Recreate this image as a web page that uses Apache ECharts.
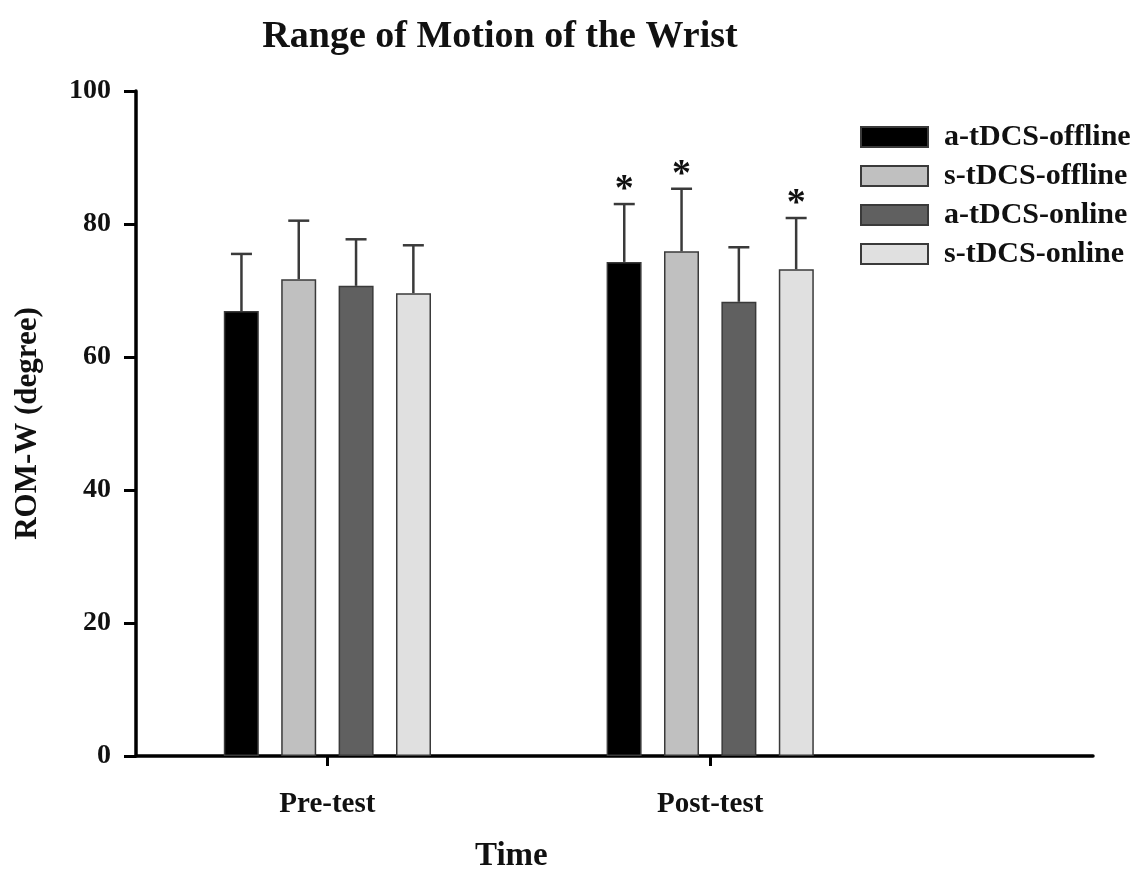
<!DOCTYPE html>
<html>
<head>
<meta charset="utf-8">
<script src="https://cdn.jsdelivr.net/npm/echarts@6/dist/echarts.min.js"></script>
<style>html,body{margin:0;padding:0;background:#fff;}#c{width:1148px;height:869px;}</style>
</head>
<body>
<div id="c"></div>
<script>
// ---- data ----
var groups = ['Pre-test', 'Post-test'];
var groupSlots = [1, 3];          // positions of the groups on the time axis
var slotCount = 6;
var seriesNames = ['a-tDCS-offline', 's-tDCS-offline', 'a-tDCS-online', 's-tDCS-online'];
var aOfflineMean = [66.9, 74.3];
var sOfflineMean = [71.7, 75.9];
var aOnlineMean  = [70.7, 68.3];
var sOnlineMean  = [69.6, 73.2];
var aOfflineSD = [8.6, 8.7];
var sOfflineSD = [8.8, 9.4];
var aOnlineSD  = [7.0, 8.2];
var sOnlineSD  = [7.2, 7.7];
var aOfflineSig = [0, 1];
var sOfflineSig = [0, 1];
var aOnlineSig  = [0, 0];
var sOnlineSig  = [0, 1];
var yTicks = [0, 20, 40, 60, 80, 100];

// ---- build ----
var FONT = 'Liberation Serif';
var colors = ['#000000', '#c0c0c0', '#606060', '#e0e0e0'];
var means = [aOfflineMean, sOfflineMean, aOnlineMean, sOnlineMean];
var sds = [aOfflineSD, sOfflineSD, aOnlineSD, sOnlineSD];
var sigs = [aOfflineSig, sOfflineSig, aOnlineSig, sOnlineSig];
var BAR_W = 35, STEP = 57.3;

var axisData = [];
for (var i = 0; i < slotCount; i++) axisData.push('');
groups.forEach(function (g, k) { axisData[groupSlots[k]] = g; });
function isGroupSlot(idx) { return groupSlots.indexOf(idx) >= 0; }

var series = [];
seriesNames.forEach(function (name, s) {
  var d = [];
  for (var i = 0; i < slotCount; i++) d.push('-');
  groupSlots.forEach(function (slot, k) { d[slot] = means[s][k]; });
  series.push({
    name: name, type: 'bar', data: d, barWidth: BAR_W, barGap: '64%',
    itemStyle: { color: colors[s], borderColor: '#3a3a3a', borderWidth: 1.5 },
    emphasis: { disabled: true }
  });
});
seriesNames.forEach(function (name, s) {
  var d = groupSlots.map(function (slot, k) { return [slot, means[s][k], sds[s][k], sigs[s][k]]; });
  series.push({
    type: 'custom', z: 5, silent: true, data: d,
    encode: { x: 0, y: 1 },
    renderItem: function (params, api) {
      var x = api.value(0), m = api.value(1), e = api.value(2), sg = api.value(3);
      var b = api.coord([x, m]);
      var t = api.coord([x, m + e]);
      var cx = b[0] + (s - 1.5) * STEP;
      var ch = [
        { type: 'line', shape: { x1: cx, y1: b[1], x2: cx, y2: t[1] }, style: { stroke: '#3a3a3a', lineWidth: 2.5 } },
        { type: 'line', shape: { x1: cx - 10.5, y1: t[1], x2: cx + 10.5, y2: t[1] }, style: { stroke: '#3a3a3a', lineWidth: 2.5 } }
      ];
      if (sg) {
        ch.push({ type: 'text', style: { text: '*', x: cx, y: t[1] + 5, align: 'center', verticalAlign: 'bottom',
          font: 'bold 38px "' + FONT + '"', fill: '#111' } });
      }
      return { type: 'group', children: ch };
    }
  });
});

var chart = echarts.init(document.getElementById('c'));
chart.setOption({
  animation: false,
  backgroundColor: '#fff',
  title: { text: 'Range of Motion of the Wrist', left: 495, top: 13, textAlign: 'center',
    textStyle: { fontFamily: FONT, fontSize: 38, fontWeight: 'bold', color: '#111' } },
  legend: {
    orient: 'vertical', left: 855, top: 117, itemWidth: 67, itemHeight: 20, itemGap: 9,
    icon: 'rect', data: seriesNames,
    textStyle: { fontFamily: FONT, fontSize: 30, fontWeight: 'bold', color: '#111', lineHeight: 30, padding: [0, 0, 0, 11] }
  },
  grid: { left: 136, right: 55, top: 91, bottom: 113, containLabel: false },
  xAxis: {
    type: 'category', data: axisData, boundaryGap: false,
    axisLine: { lineStyle: { color: '#000', width: 3.5 } },
    axisTick: { interval: function (idx) { return isGroupSlot(idx); }, length: 10, lineStyle: { width: 3, color: '#000' } },
    axisLabel: { interval: function (idx) { return isGroupSlot(idx); }, margin: 34,
      fontFamily: FONT, fontSize: 29, fontWeight: 'bold', color: '#111' },
    splitLine: { show: false }
  },
  yAxis: {
    type: 'value', min: yTicks[0], max: yTicks[yTicks.length - 1], interval: yTicks[1] - yTicks[0],
    name: 'ROM-W (degree)', nameLocation: 'middle', nameGap: 93,
    nameTextStyle: { fontFamily: FONT, fontSize: 31, fontWeight: 'bold', color: '#111' },
    axisLine: { show: true, lineStyle: { color: '#000', width: 3.5 } },
    axisTick: { show: true, length: 12, lineStyle: { width: 3, color: '#000' } },
    axisLabel: { margin: 25, fontFamily: FONT, fontSize: 28, fontWeight: 'bold', color: '#111' },
    splitLine: { show: false }
  },
  graphic: [{ type: 'text', left: 475, top: 840,
    style: { text: 'Time', font: 'bold 33px "' + FONT + '"', fill: '#111' } }],
  series: series
});
</script>
</body>
</html>
